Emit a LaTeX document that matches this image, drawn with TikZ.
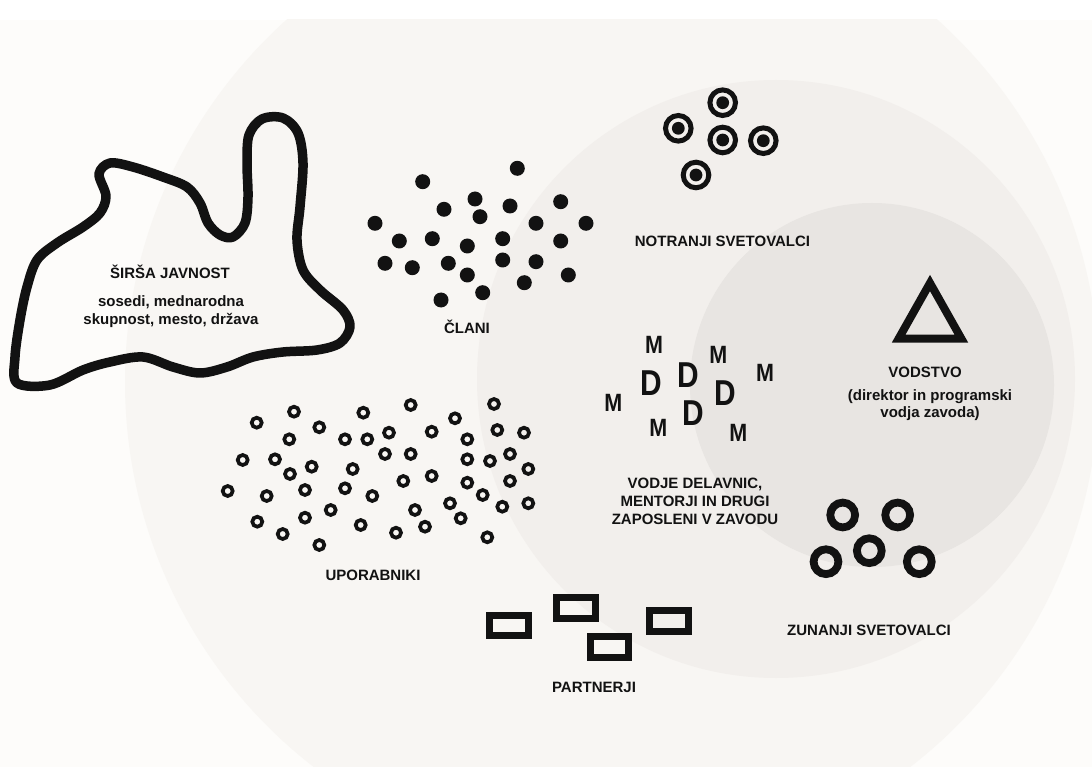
\documentclass[tikz,border=0pt]{standalone}
\usepackage{fontspec}
\setmainfont{Liberation Sans}
\definecolor{bgA}{HTML}{FDFCFA}
\definecolor{cA}{HTML}{F8F6F3}
\definecolor{cB}{HTML}{F2EFEC}
\definecolor{cC}{HTML}{E8E5E2}
\definecolor{ink}{HTML}{121212}
\begin{document}
\begin{tikzpicture}[x=1pt,y=-1pt,
  lbl/.style={font=\bfseries\fontsize{15}{17.5}\selectfont, text=ink, inner sep=0pt, anchor=base},
  mlet/.style={font=\bfseries\fontsize{25}{25}\selectfont, text=ink, inner sep=0pt, anchor=center, xscale=0.86},
  dlet/.style={font=\bfseries\fontsize{36}{36}\selectfont, text=ink, inner sep=0pt, anchor=center, xscale=0.83},
  solid dot/.style={fill=ink},
  small ring/.style={draw=ink, line width=3.7pt},
  big ring/.style={draw=ink, line width=7.8pt},
  target ring/.style={draw=ink, line width=5pt},
  partner box/.style={draw=ink, line width=7pt, minimum width=38.7pt, minimum height=20.7pt, inner sep=0pt, rectangle},
]
\useasboundingbox (0,0) rectangle (1092,767);
\fill[white] (0,0) rectangle (1092,767);
\fill[bgA] (0,20) rectangle (1092,767);
\begin{scope}
  \clip (0,20) rectangle (1092,767);
  \fill[cA] (612,382) circle (487pt);
  \fill[cB] (776,379) circle (299pt);
  \fill[cC] (872,385) circle (182pt);
\end{scope}

% blob (ŠIRŠA JAVNOST)
\draw[ink, line width=9.5pt, line join=round]
  plot[smooth cycle, tension=0.55] coordinates {
  (17,383) (50,385) (83,370) (110,362) (143,357) (173,367) (200,373) (227,367)
  (253,357) (283,352) (317,350) (340,343) (350,327) (343,310) (320,290) (303,270)
  (297,240) (300,207) (303,163) (298,133) (283,118) (262,119) (249,135) (247,163)
  (248,197) (245,223) (233,237) (220,235) (208,223) (200,203) (187,187) (163,177)
  (133,167) (110,163) (99,174) (106,196) (100,213) (83,227) (57,243) (37,260)
  (27,287) (20,320) (15,357)};
\node[lbl] (sirsa) at (170,279) {ŠIRŠA JAVNOST};
\node[lbl] (sirsaA) at (171,306.5) {sosedi, mednarodna};
\node[lbl] (sirsaB) at (171,324) {skupnost, mesto, država};

% ČLANI
\foreach \x/\y in {517.3/168.3, 422.7/181.7, 475/199, 444/209.3, 510/206, 560.7/201.7,
  480/216.7, 375/223.3, 536/223.3, 586/223.3, 399.3/241, 432.3/238.7, 467.3/246,
  502.7/238.7, 560.7/241, 385/263.3, 412.3/267.7, 448.3/263.3, 502.7/260, 536/261.7,
  467.3/275, 568.3/275, 524.3/282.7, 482.7/292.7, 441/300}
  \fill[solid dot] (\x,\y) circle (7.5pt);
\node[lbl] (clani) at (467,333) {ČLANI};

% NOTRANJI SVETOVALCI
\foreach \x/\y in {722.7/102.7, 678.3/128.3, 722.7/140, 763.3/140.7, 696/175}{
  \draw[target ring] (\x,\y) circle (12.8pt);
  \fill[solid dot] (\x,\y) circle (6.4pt);
}
\node[lbl] (notranji) at (722.5,247) {NOTRANJI SVETOVALCI};

% VODSTVO
\draw[ink, line width=8pt, line join=miter] (930,283) -- (961.3,338.5) -- (898.7,338.5) -- cycle;
\node[lbl] (vodstvo) at (925,377) {VODSTVO};
\node[lbl] (vodstvoA) at (930,400.5) {(direktor in programski};
\node[lbl] (vodstvoB) at (930,417.5) {vodja zavoda)};

% M and D
\node[mlet] (m1) at (654,345) {M};
\node[mlet] (m2) at (718.3,355) {M};
\node[mlet] (m3) at (765,373.3) {M};
\node[mlet] (m4) at (613.3,403.3) {M};
\node[mlet] (m5) at (658.3,428.3) {M};
\node[mlet] (m6) at (738.3,433.3) {M};
\node[dlet] (d1) at (651.7,383.3) {D};
\node[dlet] (d2) at (688.3,375) {D};
\node[dlet] (d3) at (725,393.3) {D};
\node[dlet] (d4) at (693.3,413.3) {D};
\node[lbl] (vodje1) at (695,488.3) {VODJE DELAVNIC,};
\node[lbl] (vodje2) at (695,506.5) {MENTORJI IN DRUGI};
\node[lbl] (vodje3) at (695,524.5) {ZAPOSLENI V ZAVODU};

% UPORABNIKI
\foreach \x/\y in {256.7/422.7, 294/411.7, 363.3/412.7, 410.7/405, 494/404, 319.3/427.3,
  289.3/439.3, 345/439.3, 367.3/439.3, 389/432.7, 431.7/431.7, 455/418.3, 467.3/439.3,
  497.3/430, 524/432.7, 242.7/460, 275/459.3, 311.7/466.7, 290/474, 352.7/469, 385/454,
  410.7/454, 467.3/459.3, 490/461, 510/454, 528.3/469, 227.7/491, 266.7/496, 305/490,
  345/488.3, 372.3/496, 403.3/481, 431.7/476, 467.3/482.7, 510/481, 450/503.3,
  482.7/495, 502.3/506.7, 528.3/503.3, 257.3/521.7, 305/517.7, 330.7/510, 415/510,
  282.7/534, 360.7/525, 396/532.7, 425/526.7, 460.7/518.3, 319.3/545, 487.3/537.3}
  \draw[small ring] (\x,\y) circle (5.0pt);
\node[lbl] (uporabniki) at (373,580) {UPORABNIKI};

% PARTNERJI
\node[partner box] (p1) at (509,625.5) {};
\node[partner box] (p2) at (576.3,607.8) {};
\node[partner box] (p3) at (609.5,646.7) {};
\node[partner box] (p4) at (669,621) {};
\node[lbl] (partnerji) at (594,692) {PARTNERJI};

% ZUNANJI SVETOVALCI
\foreach \x/\y in {842.7/515, 897.7/515, 869.3/550.7, 826/561.7, 919.3/561.7}
  \draw[big ring] (\x,\y) circle (12.4pt);
\node[lbl] (zunanji) at (869,635) {ZUNANJI SVETOVALCI};
\end{tikzpicture}
\end{document}
